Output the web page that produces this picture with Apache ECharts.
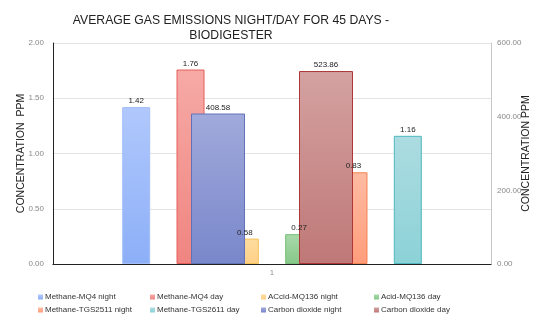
<!DOCTYPE html>
<html>
<head>
<meta charset="utf-8">
<script src="https://cdn.jsdelivr.net/npm/echarts@6/dist/echarts.min.js"></script>
<style>
  html, body { margin: 0; padding: 0; background: #fff; }
  #chart { width: 559px; height: 325px; }
</style>
</head>
<body>
<div id="chart"></div>
<script>
// data
var categories = ['1'];
var primaryNames = ['Methane-MQ4 night', 'Methane-MQ4 day', 'ACcid-MQ136 night',
                    'Acid-MQ136 day', 'Methane-TGS2511 night', 'Methane-TGS2611 day'];
var primaryValues = [1.42, 1.76, 0.23, 0.27, 0.83, 1.16];
var primaryLabels = ['1.42', '1.76', '0.58', '0.27', '0.83', '1.16'];
var secondaryNames = ['Carbon dioxide night', 'Carbon dioxide day'];
var secondaryValues = [408.58, 523.86];
var legendOrder = ['Methane-MQ4 night', 'Methane-MQ4 day', 'ACcid-MQ136 night', 'Acid-MQ136 day',
                   'Methane-TGS2511 night', 'Methane-TGS2611 day', 'Carbon dioxide night', 'Carbon dioxide day'];
var leftTicks = [0, 0.5, 1, 1.5, 2];
var rightTicks = [0, 200, 400, 600];

// colours: [top, bottom, border]
var palette = {
  'Methane-MQ4 night':     ['#b0c8fc', '#8daff8', '#a4bef8'],
  'Methane-MQ4 day':       ['#f6aaa6', '#f08581', '#e65e5a'],
  'ACcid-MQ136 night':     ['#fedc9e', '#fdd088', '#f5c25a'],
  'Acid-MQ136 day':        ['#a9d9aa', '#86c888', '#78be7a'],
  'Methane-TGS2511 night': ['#ffbba2', '#ff9d7c', '#f28352'],
  'Methane-TGS2611 day':   ['#acdce1', '#8cd2d7', '#4fb8c0'],
  'Carbon dioxide night':  ['#a1aadb', '#7987cb', '#6272b9'],
  'Carbon dioxide day':    ['#d4a2a1', '#be7877', '#ae3636']
};
var FONT = 'Liberation Sans, Arial, sans-serif';

function grad(name) {
  var c = palette[name];
  return {
    type: 'linear', x: 0, y: 0, x2: 0, y2: 1,
    colorStops: [{ offset: 0, color: c[0] }, { offset: 1, color: c[1] }]
  };
}

var series = [];
// primary bars (left axis), drawn behind
primaryNames.forEach(function (n, i) {
  series.push({
    name: n, type: 'bar', xAxisIndex: 0, yAxisIndex: 0, z: 2,
    barWidth: 28, barGap: '94%',
    data: [primaryValues[i]],
    itemStyle: { color: grad(n), borderColor: palette[n][2], borderWidth: 1 }
  });
});
// secondary bars (right axis), in front
secondaryNames.forEach(function (n, i) {
  series.push({
    name: n, type: 'bar', xAxisIndex: 1, yAxisIndex: 1, z: 3,
    barWidth: 54, barGap: '100%',
    data: [secondaryValues[i]],
    itemStyle: { color: grad(n), borderColor: palette[n][2], borderWidth: 1 },
    label: { show: true, position: 'top', distance: 2, fontSize: 8, color: '#222', fontFamily: FONT,
             formatter: function (p) { return p.value.toFixed(2); } }
  });
});
// transparent copies of primary bars only to carry labels above everything
primaryNames.forEach(function (n, i) {
  series.push({
    name: n + ' label', type: 'bar', xAxisIndex: 2, yAxisIndex: 0, z: 5,
    barWidth: 28, barGap: '94%', silent: true,
    data: [primaryValues[i]],
    itemStyle: { color: 'rgba(0,0,0,0)' },
    label: { show: true, position: 'top', distance: 2, fontSize: 8, color: '#222', fontFamily: FONT,
             formatter: function () { return primaryLabels[i]; } }
  });
});

// one legend block per item, 4 columns x 2 rows
var colX = [38, 150, 261, 374];
var rowY = [293, 306];
var legends = legendOrder.map(function (n, i) {
  return {
    data: [n], left: colX[i % 4], top: rowY[Math.floor(i / 4)],
    padding: 0, itemWidth: 5, itemHeight: 5, icon: 'rect', selectedMode: false,
    itemStyle: { borderWidth: 0 },
    textStyle: { fontSize: 8, color: '#333', fontFamily: FONT, padding: [0, 0, 0, -3] }
  };
});

var myChart = echarts.init(document.getElementById('chart'));
var option = {
  animation: false,
  title: {
    text: 'AVERAGE GAS EMISSIONS NIGHT/DAY FOR 45 DAYS -\nBIODIGESTER',
    left: 226, top: 8, textAlign: 'center',
    textStyle: { fontSize: 12.2, fontWeight: 'normal', color: '#222', fontFamily: FONT, lineHeight: 15 }
  },
  legend: legends,
  grid: { left: 53, right: 68, top: 43, bottom: 61, containLabel: false },
  xAxis: [
    { type: 'category', data: categories, position: 'bottom',
      axisLine: { lineStyle: { color: '#a6a6a6' } }, axisTick: { show: false },
      axisLabel: { fontSize: 7, color: '#888', margin: 6, fontFamily: FONT } },
    { type: 'category', data: categories, position: 'top',
      axisLine: { lineStyle: { color: '#222' } }, axisTick: { show: false },
      axisLabel: { show: false } },
    { type: 'category', data: categories, show: false }
  ],
  yAxis: [
    { type: 'value', position: 'left', min: 0, max: leftTicks[leftTicks.length - 1], interval: 0.5,
      name: 'CONCENTRATION  PPM', nameLocation: 'middle', nameGap: 26, nameRotate: 90,
      nameMoveOverlap: false,
      nameTextStyle: { fontSize: 10.5, color: '#222', fontFamily: FONT },
      axisLine: { show: true, lineStyle: { color: '#222' } }, axisTick: { show: false },
      axisLabel: { fontSize: 8, color: '#888', margin: 9, fontFamily: FONT,
                   formatter: function (v) { return v.toFixed(2); } },
      splitLine: { lineStyle: { color: '#e4e4e4' } } },
    { type: 'value', position: 'right', min: 0, max: rightTicks[rightTicks.length - 1], interval: 200,
      name: 'CONCENTRATION PPM', nameLocation: 'middle', nameGap: 30, nameRotate: 90,
      nameMoveOverlap: false,
      nameTextStyle: { fontSize: 10.5, color: '#222', fontFamily: FONT },
      axisLine: { show: true, lineStyle: { color: '#c8c8c8' } }, axisTick: { show: false },
      axisLabel: { fontSize: 8, color: '#888', margin: 6, fontFamily: FONT,
                   formatter: function (v) { return v.toFixed(2); } },
      splitLine: { show: false } }
  ],
  series: series
};
myChart.setOption(option);
</script>
</body>
</html>
